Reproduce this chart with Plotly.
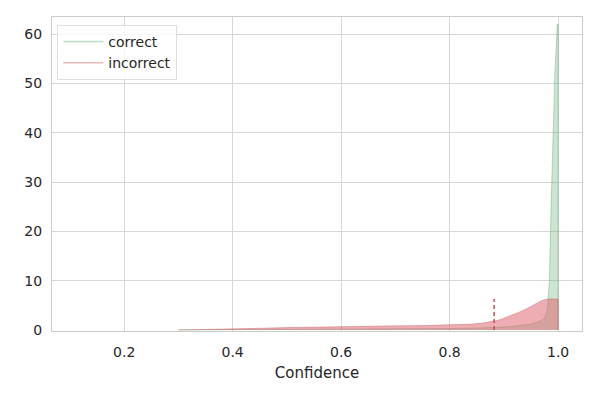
"""
Distribución de confianza: predicciones correctas vs incorrectas
"""
import plotly.graph_objects as go

COLORS = {
    'green': '#55a868',
    'red': '#c44e52',
    'grid': '#d6d6d6',
    'text': '#262626',
}

# densidad de confianza, predicciones correctas
correct_x = [0.30, 0.40, 0.50, 0.60, 0.70, 0.80, 0.85, 0.90, 0.93, 0.95, 0.97,
             0.975, 0.98, 0.984, 0.987, 0.99, 0.994, 0.9985, 1.0, 1.0]
correct_y = [0.02, 0.05, 0.10, 0.15, 0.20, 0.30, 0.40, 0.60, 0.90, 1.2, 2.0,
             2.5, 4.0, 10.0, 25.0, 38.0, 52.0, 62.0, 62.0, 0.0]

# densidad de confianza, predicciones incorrectas
incorrect_x = [0.30, 0.35, 0.40, 0.45, 0.50, 0.55, 0.60, 0.65, 0.70, 0.75, 0.80,
               0.82, 0.84, 0.86, 0.88, 0.89, 0.90, 0.91, 0.92, 0.93, 0.94, 0.95,
               0.96, 0.97, 0.98, 0.99, 0.995, 1.0, 1.0]
incorrect_y = [0.02, 0.08, 0.20, 0.35, 0.50, 0.62, 0.72, 0.80, 0.85, 0.90, 1.0,
               1.1, 1.2, 1.4, 1.7, 2.0, 2.4, 2.8, 3.2, 3.7, 4.2, 4.8,
               5.4, 6.0, 6.3, 6.3, 6.3, 6.3, 0.0]

# umbral de confianza
threshold = 0.882

fig = go.Figure()

fig.add_trace(go.Scatter(
    x=correct_x, y=correct_y, mode='lines', fill='tozeroy',
    line=dict(color='rgba(85,168,104,0.4)', width=1),
    fillcolor='rgba(85,168,104,0.3)', showlegend=False
))

fig.add_trace(go.Scatter(
    x=incorrect_x, y=incorrect_y, mode='lines', fill='tozeroy',
    line=dict(color='rgba(196,78,82,0.35)', width=1),
    fillcolor='rgba(222,105,115,0.55)', showlegend=False
))

fig.add_trace(go.Scatter(
    x=[threshold, threshold], y=[0, max(incorrect_y)], mode='lines',
    line=dict(color=COLORS['red'], width=1.5, dash='4px,3px'), showlegend=False
))

# entradas de leyenda
fig.add_trace(go.Scatter(
    x=[None], y=[None], mode='lines', name='correct',
    line=dict(color='rgba(85,168,104,0.4)', width=1.5)
))
fig.add_trace(go.Scatter(
    x=[None], y=[None], mode='lines', name='incorrect',
    line=dict(color='rgba(196,78,82,0.4)', width=1.5)
))

axis_common = dict(
    showgrid=True, gridcolor=COLORS['grid'], gridwidth=1,
    showline=True, linecolor='#cccccc', linewidth=1.2, mirror=True,
    zeroline=False, ticks='', tickfont=dict(size=14, color=COLORS['text'])
)

fig.update_xaxes(
    range=[0.067, 1.044], tickvals=[0.2, 0.4, 0.6, 0.8, 1.0],
    ticktext=['0.2', '0.4', '0.6', '0.8', '1.0'],
    ticklabelstandoff=8,
    title=dict(text='Confidence', font=dict(size=15, color=COLORS['text']), standoff=8),
    **axis_common
)
fig.update_yaxes(
    range=[-0.2, 63.5], tickvals=[0, 10, 20, 30, 40, 50, 60],
    ticklabelstandoff=6,
    **axis_common
)

fig.update_layout(
    width=592, height=392,
    template='plotly_white',
    plot_bgcolor='white', paper_bgcolor='white',
    font=dict(family='DejaVu Sans', color=COLORS['text']),
    margin=dict(l=44, r=18, t=9, b=69),
    legend=dict(
        x=0.01, y=0.975, xanchor='left', yanchor='top',
        bgcolor='rgba(255,255,255,0.8)', bordercolor='#dddddd', borderwidth=1,
        font=dict(size=14), itemwidth=40
    )
)

fig.write_html("out.html")
